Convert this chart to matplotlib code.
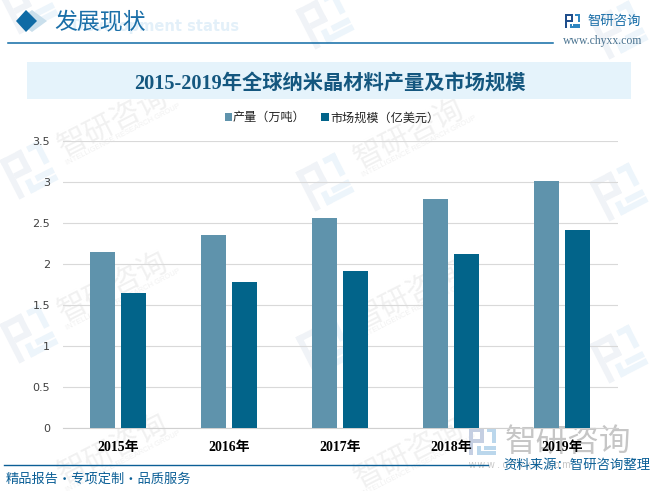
import math
import matplotlib
matplotlib.use("Agg")
import matplotlib.pyplot as plt
from matplotlib.patches import Polygon, Rectangle

years = ["2015年", "2016年", "2017年", "2018年", "2019年"]
output_vals = [2.15, 2.35, 2.56, 2.79, 3.01]
market_vals = [1.65, 1.78, 1.91, 2.12, 2.41]
y_ticks = [0, 0.5, 1, 1.5, 2, 2.5, 3, 3.5]
y_labels = ["0", "0.5", "1", "1.5", "2", "2.5", "3", "3.5"]
series_names = ["产量（万吨）", "市场规模（亿美元）"]
title = "2015-2019年全球纳米晶材料产量及市场规模"

W, H = 651, 491
C1, C2 = "#5F93AC", "#02648A"
BLUE = "#0B5F96"
SERIF = ["Liberation Serif", "Noto Sans CJK SC"]
SANS = ["Liberation Sans", "Noto Sans CJK SC"]
CJK = ["Noto Sans CJK SC"]

fig = plt.figure(figsize=(W / 100, H / 100), dpi=100, facecolor="white")
bg = fig.add_axes([0, 0, 1, 1], zorder=0)
bg.set_xlim(0, W); bg.set_ylim(H, 0); bg.axis("off")

LOGO_RECTS = [(0, 0, .55, .14, 0), (0, 0, .14, 1, 0), (.41, 0, .14, .55, 0),
              (.14, .41, .41, .14, 0), (.68, 0, .32, .14, 1), (.86, 0, .14, .55, 1),
              (.30, .68, .14, .32, 1), (.30, .86, .70, .14, 1), (.55, .68, .45, .14, 1)]

def logo(a, cx, cy, s, c1="#1F4E8C", c2="#2E86C1", angle=0, z=1):
    """block logo of side s centred at (cx, cy), tilted anticlockwise by angle degrees"""
    t = math.radians(angle)
    cs, sn = math.cos(t), math.sin(t)
    for rx, ry, rw, rh, k in LOGO_RECTS:
        pts = []
        for px, py in [(rx, ry), (rx + rw, ry), (rx + rw, ry + rh), (rx, ry + rh)]:
            dx, dy = (px - .5) * s, (py - .5) * s
            pts.append((cx + dx * cs + dy * sn, cy - dx * sn + dy * cs))
        a.add_patch(Polygon(pts, fc=c2 if k else c1, ec="none", zorder=z))

# tiled watermarks
for tx, ty in [(113, 122), (113, 287), (113, 449), (409, 134), (409, 295), (409, 453)]:
    bg.text(tx, ty, "智研咨询", family=CJK, fontsize=21.5, color="#F1F1F1", rotation=27,
            ha="center", va="center", zorder=0.5)
    bg.text(tx + 10, ty + 13, "INTELLIGENCE RESEARCH GROUP", family=SANS, fontsize=5.4, color="#F1F1F1",
            rotation=27, ha="center", va="center", zorder=0.5)
for lx, ly in [(29, 5), (29, 170), (29, 334), (325, 182), (325, 347), (619, 192), (619, 354), (325, 20), (619, 30)]:
    logo(bg, lx, ly, 44, "#F0F3F7", "#EDF5FB", angle=27, z=0.4)

# header
bg.text(239, 26, "Development status", family="DejaVu Sans", weight="bold", fontsize=10.5,
        color="#E3F0F9", ha="right", va="center", zorder=1)
bg.add_patch(Polygon([(32, 10), (47, 21), (32, 32), (17, 21)], fc="#C9DFEC", ec="none", zorder=1.1))
bg.add_patch(Polygon([(26, 10), (37, 21), (26, 32), (16, 21)], fc="#0F6BA5", ec="none", zorder=1.2))
bg.text(54, 21.5, "发展现状", family=CJK, fontsize=16.5, color="#1B6FA8",
        ha="left", va="center", zorder=2)
bg.plot([8, 553], [42.5, 42.5], color="#0F6BA5", lw=1.1, zorder=2)
logo(bg, 572.5, 21, 14.5, z=2)
bg.text(587.5, 21, "智研咨询", family=CJK, fontsize=9.6, color="#1B6FA8",
        ha="left", va="center", zorder=2)
bg.text(563, 41, "www.chyxx.com", family=["Liberation Serif"], fontsize=8.5, color="#4A7390",
        ha="left", va="center", zorder=2)

# title band
bg.add_patch(Rectangle((27, 62), 604, 37, fc="#E5F3FB", ec="none", zorder=1))
bg.text(329.5, 83.5, title, family=SERIF, weight="bold", fontsize=14.6, color="#14577F",
        ha="center", va="center", zorder=2)

# bottom right watermark (under the chart labels)
logo(bg, 482.5, 441.5, 27, "#C5CFE2", "#BBD7EC", z=1)
bg.text(505, 442, "智研咨询", family=CJK, fontsize=22.8, color="#C6C6C6",
        ha="left", va="center", zorder=1)
bg.text(468, 465.5, "w w w . c h y x x . c o m", family=["Liberation Sans"], fontsize=7, color="#C6C6C6",
        ha="left", va="center", zorder=1)

# chart
ax = fig.add_axes([62.5 / W, 1 - 428 / H, 555 / W, 287 / H], zorder=2)
ax.patch.set_alpha(0)
x = list(range(len(years)))
offset, width = 0.142, 0.226
ax.bar([i - offset for i in x], output_vals, width, color=C1, label=series_names[0], zorder=3)
ax.bar([i + offset for i in x], market_vals, width, color=C2, label=series_names[1], zorder=3)
ax.set_xlim(-0.5, 4.5)
ax.set_ylim(0, 3.5)
ax.set_yticks(y_ticks, y_labels, family="DejaVu Sans", fontsize=8, color="#404040")
ax.set_xticks(x, years, family=SERIF, weight="bold", fontsize=10, color="black")
ax.tick_params(axis="both", length=0)
ax.tick_params(axis="y", pad=9)
ax.tick_params(axis="x", pad=9.5)
ax.grid(axis="y", color="#D9D9D9", lw=0.8, zorder=0)
ax.set_axisbelow(True)
for s in ["top", "right", "left"]:
    ax.spines[s].set_visible(False)
ax.spines["bottom"].set_color("#D0D0D0")
ax.legend(loc="center", bbox_to_anchor=(0.4852, 1.079), ncol=2, frameon=False,
          prop={"family": SANS, "size": 8.7}, handlelength=0.6, handleheight=0.6,
          handletextpad=0.1, columnspacing=1.3, labelcolor="#222222")

# foreground footer
fg = fig.add_axes([0, 0, 1, 1], zorder=3)
fg.set_xlim(0, W); fg.set_ylim(H, 0); fg.axis("off")
fg.plot([4, 488], [464.5, 464.5], color=BLUE, lw=1, zorder=2)
fg.text(503, 465, "资料来源：智研咨询整理", family=CJK, fontsize=9.6, color=BLUE,
        ha="left", va="center", zorder=3)
fg.text(6, 479.5, "精品报告·专项定制·品质服务", family=CJK, fontsize=9.5, color=BLUE,
        ha="left", va="center", zorder=3)

fig.savefig("out.png", dpi=100)
